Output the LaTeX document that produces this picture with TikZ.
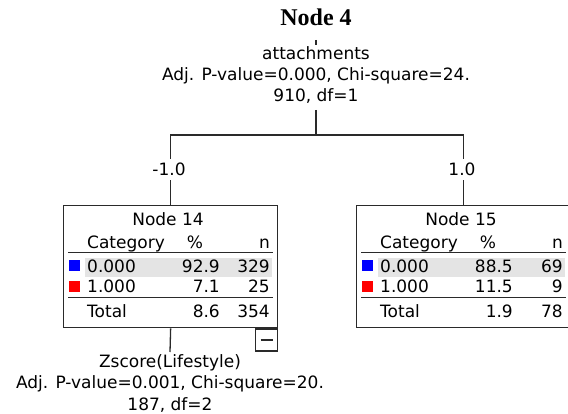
\documentclass[tikz,border=0pt]{standalone}
\usepackage{fontspec}
\newfontfamily\treesans{DejaVu Sans}
\newfontfamily\treeserif{Liberation Serif}
\definecolor{rowgray}{HTML}{E4E4E4}
\definecolor{edge}{HTML}{2A2A2A}
\begin{document}
\begin{tikzpicture}[x=1pt,y=-1pt,
  txt/.style={inner sep=0pt,font=\treesans\fontsize{17}{21}\selectfont,text=black},
  lbl/.style={txt,anchor=base},
  cellL/.style={txt,anchor=base west},
  cellR/.style={txt,anchor=base east},
  boxline/.style={draw=edge,line width=1.3pt},
  rule/.style={draw=edge,line width=1.5pt},
  conn/.style={draw=edge,line width=1.3pt},
  edgelbl/.style={txt,anchor=base,fill=white,inner xsep=1pt,inner ysep=4pt},
  swatch/.style={draw=none,fill=#1}
]
\useasboundingbox (0,0) rectangle (568,414);
\clip (0,0) rectangle (568,414);

% heading
\node[anchor=base,inner sep=0pt,font=\treeserif\bfseries\fontsize{24}{28}\selectfont] (title) at (316,26) {Node 4};

% split description of the parent node
\node[lbl] (s4a) at (316,60) {attachments};
\node[lbl] (s4b) at (316,81) {Adj. P-value=0.000, Chi-square=24.};
\node[lbl] (s4c) at (316,102) {910, df=1};
\coordinate (stubtop) at (316,40);
\coordinate (stub) at (316,110);
\coordinate (bar) at (316,135);

% a table node: name, origin (top-left), title, rows
\newcommand{\tablenode}[9]{%
  \begin{scope}[shift={(#2)}]
    \fill[rowgray] (22,53) rectangle (209,72);
    \node[boxline,minimum width=214pt,minimum height=122pt,anchor=north west,inner sep=0pt] (#1) at (0,0) {};
    \node[lbl] (#1t) at (105,21) {#3};
    \node[cellL] (#1h1) at (24,44) {Category};
    \node[lbl] (#1h2) at (132,44) {\%};
    \node[cellR] (#1h3) at (207,44) {n};
    \draw[rule] (5,47.5) -- (210,47.5);
    \node[swatch=blue,minimum size=11pt,inner sep=0pt] (#1s1) at (11,60.5) {};
    \node[cellL] (#1a1) at (24,68) {0.000};
    \node[cellR] (#1a2) at (157,68) {#4};
    \node[cellR] (#1a3) at (207,68) {#5};
    \node[swatch=red,minimum size=11pt,inner sep=0pt] (#1s2) at (11,82) {};
    \node[cellL] (#1b1) at (24,88) {1.000};
    \node[cellR] (#1b2) at (157,88) {#6};
    \node[cellR] (#1b3) at (207,88) {#7};
    \draw[rule] (5,92.5) -- (210,92.5);
    \node[cellL] (#1c1) at (24,113) {Total};
    \node[cellR] (#1c2) at (157,113) {#8};
    \node[cellR] (#1c3) at (207,113) {#9};
  \end{scope}}

\tablenode{n14}{63,205}{Node 14}{92.9}{329}{7.1}{25}{8.6}{354}
\tablenode{n15}{356,205}{Node 15}{88.5}{69}{11.5}{9}{1.9}{78}

% collapse toggle under Node 14
\node[boxline,anchor=north east,minimum width=22pt,minimum height=22pt,inner sep=0pt] (tog) at (n14.south east) {};
\draw[draw=edge,line width=1.8pt] ([xshift=-6pt]tog.center) -- ([xshift=6pt]tog.center);

% split description below Node 14
\node[lbl] (s14a) at (170,367) {Zscore(Lifestyle)};
\node[lbl] (s14b) at (170,388) {Adj. P-value=0.001, Chi-square=20.};
\node[lbl] (s14c) at (170,410) {187, df=2};
\coordinate (stub14) at (170,352);

% connectors
\draw[conn] (stubtop) -- ++(0,5);
\draw[conn] (stub) -- (bar);
\draw[conn] (n14.north) |- (bar) -| (n15.north);
\draw[conn] (n14.south) -- (stub14);

% branch values
\node[edgelbl] (e14) at (169,176) {-1.0};
\node[edgelbl] (e15) at (462,176) {1.0};

\end{tikzpicture}
\end{document}
